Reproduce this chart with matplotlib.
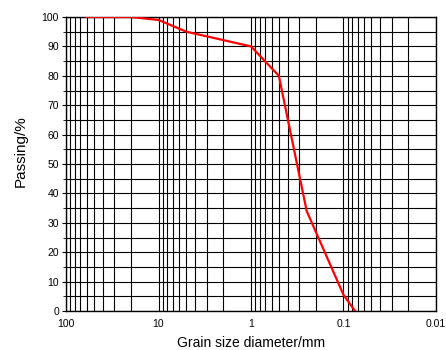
import matplotlib.pyplot as plt
from matplotlib.ticker import LogLocator, MultipleLocator, FixedLocator, FixedFormatter

plt.rcParams['font.family'] = ['Liberation Sans', 'DejaVu Sans']

# grain size (mm) and percent passing
diameter = [60, 20, 10, 5, 1, 0.5, 0.25, 0.1, 0.075]
passing = [100, 100, 99, 95, 90, 80, 34, 5.5, 0]

xticks = [100, 10, 1, 0.1, 0.01]
xticklabels = ["100", "10", "1", "0.1", "0.01"]

W, H = 446, 350
fig = plt.figure(figsize=(W / 100, H / 100), dpi=100)
ax = fig.add_axes([66 / W, 1 - 311 / H, 370 / W, 294 / H])

ax.plot(diameter, passing, color='red', linewidth=1.6, zorder=3)

ax.set_xscale('log')
ax.set_xlim(100, 0.01)
ax.set_ylim(0, 100)

ax.xaxis.set_major_locator(FixedLocator(xticks))
ax.xaxis.set_major_formatter(FixedFormatter(xticklabels))
ax.xaxis.set_minor_locator(LogLocator(base=10, subs=range(2, 10)))
ax.yaxis.set_major_locator(MultipleLocator(10))
ax.yaxis.set_minor_locator(MultipleLocator(5))

ax.grid(True, which='both', color='black', linewidth=0.8)
ax.tick_params(axis='x', which='both', length=0, labelsize=7.5, pad=6)
ax.tick_params(axis='y', which='major', length=3, labelsize=7.5, pad=2)
ax.tick_params(axis='y', which='minor', length=2)
for s in ax.spines.values():
    s.set_linewidth(1.0)

# axis titles placed in pixel terms to follow the reference
fig.text(251.5 / W, 1 - 343 / H, "Grain size diameter/mm", fontsize=10,
         ha='center', va='center')
fig.text(21 / W, 1 - 151.5 / H, "Passing/%", fontsize=11, rotation=90,
         ha='center', va='center')

fig.savefig("out.png", dpi=100)
plt.close(fig)
